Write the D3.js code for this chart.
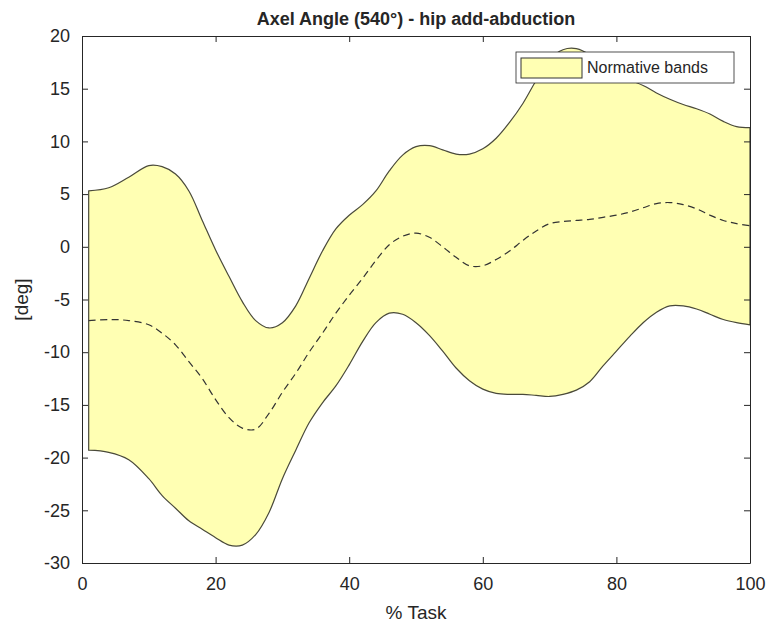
<!DOCTYPE html>
<html>
<head>
<meta charset="utf-8">
<script src="https://cdn.jsdelivr.net/npm/d3@7"></script>
<style>
  body { margin: 0; background: #fff; }
  text { font-family: "Liberation Sans", Arial, sans-serif; fill: #262626; }
</style>
</head>
<body>
<div id="chart"></div>
<script>
(function() {

  // % of task
  var taskPct = [1, 4, 7, 10, 12, 14, 16, 18, 20, 22, 24, 26, 28, 30, 32, 34, 36, 38, 40, 42, 44, 46, 48, 50,
    52, 54, 56, 58, 60, 62, 64, 66, 68, 70, 72, 74, 76, 78, 80, 82, 84, 86, 88, 90, 92, 94, 96, 98, 100]

  var upperBand = [5.3, 5.6, 6.6, 7.7, 7.6, 6.9, 5.3, 2.5, -0.3, -2.8, -5.2, -7.0, -7.7, -7.2, -5.6, -3.0, -0.4, 1.7, 3.0, 4.0, 5.3, 7.2, 8.7, 9.5,
    9.6, 9.2, 8.8, 8.8, 9.3, 10.3, 11.8, 13.6, 15.8, 17.8, 18.7, 18.8, 18.2, 17.0, 16.2, 15.8, 15.3, 14.6, 14.0, 13.5, 13.1, 12.6, 11.9, 11.4, 11.3]

  var meanCurve = [-7.0, -6.9, -7.0, -7.4, -8.2, -9.3, -10.9, -12.5, -14.5, -16.2, -17.2, -17.3, -15.8, -13.8, -12.0, -10.0, -8.2, -6.3, -4.6, -3.0, -1.3, 0.2, 1.0, 1.3,
    0.9, 0.0, -1.0, -1.8, -1.8, -1.2, -0.4, 0.6, 1.5, 2.2, 2.4, 2.5, 2.6, 2.8, 3.0, 3.3, 3.7, 4.1, 4.2, 4.0, 3.6, 3.0, 2.5, 2.2, 2.0]

  var lowerBand = [-19.3, -19.5, -20.2, -22.0, -23.6, -24.8, -26.0, -26.8, -27.6, -28.3, -28.3, -27.3, -25.2, -22.0, -19.3, -16.7, -14.8, -13.2, -11.2, -9.0, -7.2, -6.3, -6.4, -7.2,
    -8.4, -9.9, -11.5, -12.7, -13.5, -13.9, -14.0, -14.0, -14.1, -14.2, -14.0, -13.6, -12.8, -11.3, -9.9, -8.5, -7.2, -6.2, -5.6, -5.6, -5.9, -6.4, -6.9, -7.2, -7.4]

  var xTicks = [0, 20, 40, 60, 80, 100]
  var yTicks = [-30, -25, -20, -15, -10, -5, 0, 5, 10, 15, 20]

  var margin = { top: 36, left: 82, right: 19, bottom: 67 }
  var svgWidth = 769, svgHeight = 630
  var width = svgWidth - margin.left - margin.right
  var height = svgHeight - margin.top - margin.bottom

  var svg = d3.select("#chart")
    .append("svg")
    .attr("width", svgWidth)
    .attr("height", svgHeight)

  var g = svg.append("g")
    .attr("transform", "translate(" + margin.left + "," + margin.top + ")")

  var xScale = d3.scaleLinear().domain([0, 100]).range([0, width])
  var yScale = d3.scaleLinear().domain([-30, 20]).range([height, 0])

  var points = taskPct.map(function(d, i) {
    return { x: d, hi: upperBand[i], mid: meanCurve[i], lo: lowerBand[i] }
  })

  var curve = d3.curveCatmullRom.alpha(0.5)

  // band
  var area = d3.area()
    .x(function(d) { return xScale(d.x) })
    .y0(function(d) { return yScale(d.lo) })
    .y1(function(d) { return yScale(d.hi) })
    .curve(curve)

  g.append("path")
    .datum(points)
    .attr("d", area)
    .attr("fill", "#ffffb3")
    .attr("stroke", "#4a4a3a")
    .attr("stroke-width", 1.2)

  // mean
  var line = d3.line()
    .x(function(d) { return xScale(d.x) })
    .y(function(d) { return yScale(d.mid) })
    .curve(curve)

  g.append("path")
    .datum(points)
    .attr("d", line)
    .attr("fill", "none")
    .attr("stroke", "#333")
    .attr("stroke-width", 1.2)
    .attr("stroke-dasharray", "7,4.5")

  // plain hyphen for negatives, like the original
  var fmt = function(d) { return String(d) }

  // axes, ticks inside on all four sides
  var tickLen = 6
  g.append("g")
    .attr("transform", "translate(0," + height + ")")
    .call(d3.axisBottom(xScale).tickValues(xTicks).tickFormat(fmt).tickSizeInner(-tickLen).tickSizeOuter(0).tickPadding(14))
  g.append("g")
    .call(d3.axisTop(xScale).tickValues(xTicks).tickSizeInner(-tickLen).tickSizeOuter(0).tickFormat(""))
  g.append("g")
    .call(d3.axisLeft(yScale).tickValues(yTicks).tickFormat(fmt).tickSizeInner(-tickLen).tickSizeOuter(0).tickPadding(12))
  g.append("g")
    .attr("transform", "translate(" + width + ",0)")
    .call(d3.axisRight(yScale).tickValues(yTicks).tickSizeInner(-tickLen).tickSizeOuter(0).tickFormat(""))

  g.selectAll(".domain").attr("stroke", "#262626")
  g.selectAll(".tick line").attr("stroke", "#262626")
  g.selectAll(".tick text")
    .attr("font-size", "18px")
    .attr("fill", "#262626")
    .style("font-family", "'Liberation Sans', Arial, sans-serif")

  // title and labels
  svg.append("text")
    .text("Axel Angle (540°) - hip add-abduction")
    .attr("x", margin.left + width / 2)
    .attr("y", 25)
    .attr("text-anchor", "middle")
    .attr("font-size", "18px")
    .attr("font-weight", "bold")
    .attr("fill", "#000")

  svg.append("text")
    .text("% Task")
    .attr("x", margin.left + width / 2)
    .attr("y", 619)
    .attr("text-anchor", "middle")
    .attr("font-size", "19px")

  svg.append("text")
    .text("[deg]")
    .attr("transform", "translate(28," + (margin.top + height / 2) + ") rotate(-90)")
    .attr("text-anchor", "middle")
    .attr("font-size", "19px")

  // legend
  var legend = svg.append("g").attr("transform", "translate(516,52)")
  legend.append("rect")
    .attr("width", 218).attr("height", 31)
    .attr("fill", "#fff").attr("stroke", "#262626").attr("stroke-width", 0.8)
  legend.append("rect")
    .attr("x", 5).attr("y", 6).attr("width", 61).attr("height", 20)
    .attr("fill", "#ffffb3").attr("stroke", "#333").attr("stroke-width", 1)
  legend.append("text")
    .text("Normative bands")
    .attr("x", 71).attr("y", 21)
    .attr("font-size", "16px")
    .attr("fill", "#000")

})();
</script>
</body>
</html>
